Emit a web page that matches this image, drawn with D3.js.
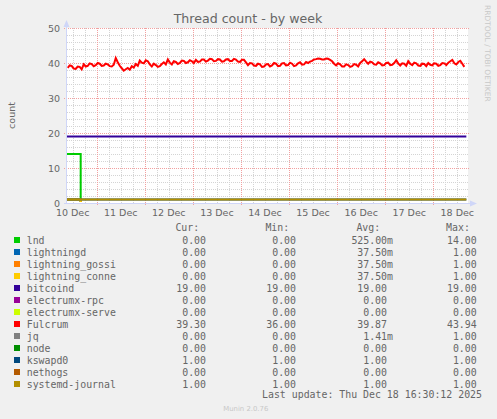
<!DOCTYPE html>
<html>
<head>
<meta charset="utf-8">
<script src="https://cdn.jsdelivr.net/npm/d3@7"></script>
<style>
  body { margin: 0; background: #f0f0f0; }
  svg { display: block; }
</style>
</head>
<body>
<script>
// data
const names = ["lnd", "lightningd", "lightning_gossi", "lightning_conne", "bitcoind",
  "electrumx-rpc", "electrumx-serve", "Fulcrum", "jq", "node", "kswapd0", "nethogs", "systemd-journal"];
const colors = ["#00CC00", "#0066B3", "#FF8000", "#FFCC00", "#330099", "#990099", "#CCFF00",
  "#FF0000", "#808080", "#008F00", "#00487D", "#B35A00", "#B38F00"];
const curVals = [0, 0, 0, 0, 19, 0, 0, 39.30, 0, 0, 1, 0, 1];
const minVals = [0, 0, 0, 0, 19, 0, 0, 36.00, 0, 0, 1, 0, 1];
const avgVals = [0.525, 0.0375, 0.0375, 0.0375, 19, 0, 0, 39.87, 0.00141, 0, 1, 0, 1];
const maxVals = [14, 1, 1, 1, 19, 0, 0, 43.94, 1, 0, 1, 0, 1];

const dataStart = "2025-12-10T09:10";
const switchOff = "2025-12-10T16:00";
const dataEnd = "2025-12-18T16:30";

// step series: [time, value] breakpoints
const stepSeries = [
  [[dataStart, 14], [switchOff, 0], [dataEnd, 0]],
  [[dataStart, 1], [switchOff, 0], [dataEnd, 0]],
  [[dataStart, 1], [switchOff, 0], [dataEnd, 0]],
  [[dataStart, 1], [switchOff, 0], [dataEnd, 0]],
  [[dataStart, 19], [dataEnd, 19]],
  [[dataStart, 0], [dataEnd, 0]],
  [[dataStart, 0], [dataEnd, 0]],
  null, // Fulcrum, below
  [[dataStart, 0], [dataEnd, 0]],
  [[dataStart, 0], [dataEnd, 0]],
  [[dataStart, 1], [dataEnd, 1]],
  [[dataStart, 0], [dataEnd, 0]],
  [[dataStart, 1], [dataEnd, 1]]
];

// Fulcrum, one sample every hour from Dec 10 09:30
const fulcrumStart = "2025-12-10T09:30";
const fulcrum = [
  38.6, 39.3, 39.2, 38.4, 38.3, 39.0, 38.9, 38.2, 39.6, 39.0,
  39.2, 39.9, 39.7, 39.1, 39.4, 40.0, 39.8, 39.2, 39.3, 39.8,
  39.6, 39.1, 39.0, 39.5, 41.4, 40.2, 39.2, 38.5, 37.8, 38.2,
  38.6, 38.1, 39.1, 38.7, 39.7, 39.2, 40.7, 40.1, 39.9, 40.8,
  40.5, 39.6, 39.0, 39.8, 39.4, 38.9, 39.1, 39.7, 40.2, 39.6,
  41.0, 40.1, 39.6, 40.5, 40.3, 39.7, 40.0, 40.7, 40.6, 40.0,
  40.2, 40.8, 40.5, 40.0, 40.9, 40.3, 40.4, 41.0, 41.0, 40.4,
  40.7, 41.2, 41.1, 40.5, 40.6, 41.1, 41.0, 40.4, 40.5, 41.0,
  41.1, 40.6, 40.6, 41.2, 41.0, 40.4, 40.3, 40.9, 40.9, 40.2,
  39.4, 40.0, 39.9, 39.3, 39.2, 39.8, 39.6, 38.9, 39.0, 39.6,
  39.7, 39.0, 39.3, 40.0, 39.8, 39.1, 39.2, 39.9, 40.0, 39.3,
  39.4, 40.1, 39.8, 39.1, 39.3, 39.9, 40.2, 39.5, 39.6, 40.3,
  40.0, 40.4, 40.6, 41.0, 41.1, 41.3, 41.2, 41.0, 41.0, 41.3,
  41.2, 40.9, 40.5, 39.8, 39.3, 39.9, 39.6, 39.0, 39.0, 39.6,
  39.4, 38.9, 39.1, 39.7, 39.5, 39.0, 40.0, 40.5, 41.1, 40.4,
  39.8, 40.4, 40.2, 39.6, 39.5, 40.2, 39.9, 39.3, 39.4, 40.0,
  40.1, 39.4, 39.5, 40.0, 40.8, 39.9, 39.3, 39.9, 39.8, 39.2,
  40.5, 39.8, 39.4, 40.1, 39.9, 39.3, 39.2, 39.8, 39.7, 39.1,
  40.0, 39.5, 39.3, 39.9, 39.8, 39.2, 39.4, 40.0, 39.9, 39.4,
  40.1, 40.5, 40.9, 39.9, 39.6, 40.3, 40.6, 39.8, 38.9
];

const yTicks = [0, 10, 20, 30, 40, 50];

const W = 497, H = 419;
const plotLeft = 67, plotRight = 468, plotTop = 28, plotBottom = 203;
const fontColor = "#666666";
const axisColor = "#CFD6F8";

const svg = d3.select("body").append("svg")
    .attr("width", W)
    .attr("height", H);

svg.append("rect").attr("width", W).attr("height", H).attr("fill", "#f0f0f0");

let x = d3.scaleTime()
    .domain([new Date("2025-12-10T09:10"), new Date("2025-12-18T17:20")])
    .range([plotLeft, plotRight]);
let y = d3.scaleLinear().domain([0, 50]).range([plotBottom, plotTop]);

// canvas
svg.append("rect")
    .attr("x", plotLeft).attr("y", plotTop)
    .attr("width", plotRight - plotLeft).attr("height", plotBottom - plotTop)
    .attr("fill", "#ffffff");

// minor grid
let grid = svg.append("g").attr("shape-rendering", "crispEdges");
let minorY = d3.range(0, 51, 2).filter(v => v % 10 !== 0);
grid.selectAll(".hmin").data(minorY).enter().append("line")
    .attr("x1", plotLeft).attr("x2", plotRight)
    .attr("y1", d => Math.round(y(d)) + 0.5).attr("y2", d => Math.round(y(d)) + 0.5)
    .attr("stroke", "#d4d4d4").attr("stroke-dasharray", "1,1");
let minorX = d3.timeHour.every(6).range(x.domain()[0], x.domain()[1]).filter(d => d.getHours() !== 0);
grid.selectAll(".vmin").data(minorX).enter().append("line")
    .attr("y1", plotTop).attr("y2", plotBottom)
    .attr("x1", d => Math.round(x(d)) + 0.5).attr("x2", d => Math.round(x(d)) + 0.5)
    .attr("stroke", "#d4d4d4").attr("stroke-dasharray", "1,1");

// major grid
grid.selectAll(".hmaj").data(yTicks).enter().append("line")
    .attr("x1", plotLeft - 3).attr("x2", plotRight + 2)
    .attr("y1", d => Math.round(y(d)) + 0.5).attr("y2", d => Math.round(y(d)) + 0.5)
    .attr("stroke", "#f2a0a0").attr("stroke-dasharray", "1,1");
let majorX = d3.timeDay.range(x.domain()[0], x.domain()[1]);
grid.selectAll(".vmaj").data(majorX).enter().append("line")
    .attr("y1", plotTop).attr("y2", plotBottom + 3)
    .attr("x1", d => Math.round(x(d)) + 0.5).attr("x2", d => Math.round(x(d)) + 0.5)
    .attr("stroke", "#f2a0a0").attr("stroke-dasharray", "1,1");

// series
svg.append("clipPath").attr("id", "plot").append("rect")
    .attr("x", plotLeft).attr("y", plotTop - 2)
    .attr("width", plotRight - plotLeft).attr("height", plotBottom - plotTop + 1);

let plot = svg.append("g").attr("clip-path", "url(#plot)");

let stepLine = d3.line()
    .x(d => x(new Date(d[0])))
    .y(d => y(d[1]))
    .curve(d3.curveStepAfter);

let fulcrumLine = d3.line()
    .x((d, i) => x(d3.timeHour.offset(new Date(fulcrumStart), i)))
    .y(d => y(d));

names.forEach((name, i) => {
  let path = plot.append("path")
      .attr("fill", "none")
      .attr("stroke", colors[i])
      .attr("stroke-width", 2);
  if (stepSeries[i]) path.attr("d", stepLine(stepSeries[i]));
  else path.attr("d", fulcrumLine(fulcrum));
});

// axes
svg.append("line")
    .attr("x1", plotLeft - 0.5).attr("x2", plotLeft - 0.5).attr("y1", plotBottom + 1).attr("y2", 24)
    .attr("stroke", axisColor);
svg.append("line")
    .attr("x1", plotLeft - 3).attr("x2", plotRight + 4).attr("y1", plotBottom + 0.5).attr("y2", plotBottom + 0.5)
    .attr("stroke", axisColor);
svg.append("path")
    .attr("d", `M${plotLeft - 3.5},27 L${plotLeft - 0.5},20 L${plotLeft + 2.5},27 Z`)
    .attr("fill", axisColor);
svg.append("path")
    .attr("d", `M${plotRight + 2},${plotBottom - 2.5} L${plotRight + 9},${plotBottom + 0.5} L${plotRight + 2},${plotBottom + 3.5} Z`)
    .attr("fill", axisColor);

// tick labels
svg.selectAll(".ylab").data(yTicks).enter().append("text")
    .attr("x", 60).attr("y", d => y(d) + 3.6)
    .attr("text-anchor", "end")
    .attr("font-family", "DejaVu Sans").attr("font-size", 9.5)
    .attr("fill", fontColor)
    .text(d => d);

let dayLabels = d3.timeDay.range(d3.timeDay.floor(x.domain()[0]), x.domain()[1])
    .map(d => d3.timeHour.offset(d, 12));
svg.selectAll(".xlab").data(dayLabels).enter().append("text")
    .attr("x", d => x(d)).attr("y", 216)
    .attr("text-anchor", "middle")
    .attr("font-family", "DejaVu Sans").attr("font-size", 9.5)
    .attr("fill", fontColor)
    .text(d => d3.timeFormat("%d %b")(d));

// title and side texts
svg.append("text")
    .attr("x", 248).attr("y", 22.5)
    .attr("text-anchor", "middle")
    .attr("font-family", "DejaVu Sans").attr("font-size", 12.6)
    .attr("fill", fontColor)
    .text("Thread count - by week");

svg.append("text")
    .attr("transform", "translate(15,115.5) rotate(-90)")
    .attr("text-anchor", "middle")
    .attr("font-family", "DejaVu Sans").attr("font-size", 9.5)
    .attr("fill", fontColor)
    .text("count");

svg.append("text")
    .attr("transform", "translate(485,5) rotate(90)")
    .attr("font-family", "DejaVu Sans").attr("font-size", 7.5)
    .attr("fill", "#c8c8c8")
    .text("RRDTOOL / TOBI OETIKER");

// legend
const mono = "DejaVu Sans Mono";
const monoSize = 9.9;
const charW = 6;
const colEnds = [212, 302, 393, 482.7];
const headers = ["Cur:", "Min:", "Avg:", "Max:"];

function fmt(v) {
  if (v !== 0 && Math.abs(v) < 1) return (v * 1000).toFixed(2) + "m";
  return v.toFixed(2);
}

headers.forEach((h, c) => {
  svg.append("text")
      .attr("x", colEnds[c] - 12.8).attr("y", 230.5)
      .attr("text-anchor", "end")
      .attr("font-family", mono).attr("font-size", monoSize)
      .attr("fill", fontColor)
      .text(h);
});

let rows = svg.selectAll(".row").data(names).enter().append("g")
    .attr("transform", (d, i) => `translate(0,${243.5 + 12 * i})`);

rows.append("rect")
    .attr("x", 14).attr("y", -6.5).attr("width", 6).attr("height", 6)
    .attr("fill", (d, i) => colors[i]);

rows.append("text")
    .attr("x", 26.7)
    .attr("font-family", mono).attr("font-size", monoSize)
    .attr("fill", fontColor)
    .text(d => d);

[curVals, minVals, avgVals, maxVals].forEach((vals, c) => {
  rows.append("text")
      .attr("x", (d, i) => fmt(vals[i]).endsWith("m") ? colEnds[c] : colEnds[c] - charW)
      .attr("text-anchor", "end")
      .attr("font-family", mono).attr("font-size", monoSize)
      .attr("fill", fontColor)
      .text((d, i) => fmt(vals[i]));
});

svg.append("text")
    .attr("x", 482).attr("y", 397.5)
    .attr("text-anchor", "end")
    .attr("font-family", mono).attr("font-size", monoSize)
    .attr("fill", fontColor)
    .text("Last update: Thu Dec 18 16:30:12 2025");

svg.append("text")
    .attr("x", 245.8).attr("y", 410.5)
    .attr("text-anchor", "middle")
    .attr("font-family", "DejaVu Sans").attr("font-size", 6.9)
    .attr("fill", "#c8c8c8")
    .text("Munin 2.0.76");
</script>
</body>
</html>
